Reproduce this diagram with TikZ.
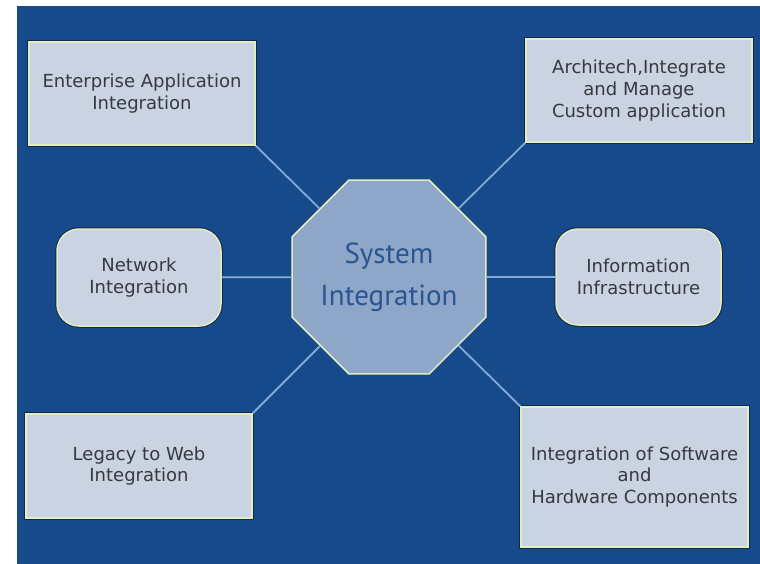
\documentclass[tikz,border=0pt]{standalone}
\usepackage{fontspec}
\usepackage{tikz}
\usetikzlibrary{shapes.geometric,positioning}
\newfontfamily\boxfont{DejaVu Sans}
\newfontfamily\hubfont{PT Sans}
\definecolor{bgblue}{HTML}{174A8A}
\definecolor{boxfill}{HTML}{C9D3E2}
\definecolor{boxrim}{HTML}{E4EDC2}
\definecolor{hubfill}{HTML}{8EA6C8}
\definecolor{hubtext}{HTML}{2B5592}
\definecolor{boxtext}{HTML}{37393F}
\definecolor{linkblue}{HTML}{86AAD8}
\tikzset{box/.style={rectangle,draw=boxrim,fill=boxfill,line width=1.5pt,
  preaction={draw=black!45!bgblue,line width=3.5pt},
  text=boxtext,align=center,inner sep=0pt,
  font=\boxfont\fontsize{18}{21.6}\selectfont}}
\tikzset{roundbox/.style={box,rounded corners=22pt}}
\tikzset{hub/.style={regular polygon,regular polygon sides=8,draw=boxrim,
  fill=hubfill,line width=1.5pt,minimum size=204pt,inner sep=0pt,
  text=hubtext,align=center,font=\hubfont\fontsize{29}{42}\selectfont}}
\tikzset{link/.style={draw=linkblue,line width=1.8pt}}

\begin{document}
\begin{tikzpicture}[x=1pt,y=-1pt]
% \draw[help lines] (0,0) grid (760,563);
\useasboundingbox (0,0) rectangle (760,563);
\fill[bgblue] (17,6) rectangle (764,567);
%
\node (sys) [hub] at (389,277) {System\\Integration};
\node (eai) [box,minimum width=226pt,minimum height=103pt] at (142,93.5) {Enterprise Application\\Integration};
\node (aca) [box,minimum width=226pt,minimum height=103pt] at (639,90.5) {Architech,Integrate\\and Manage\\Custom application};
\node (net) [roundbox,minimum width=164pt,minimum height=97pt] at (139,277.5) {Network\\Integration};
\node (inf) [roundbox,minimum width=165pt,minimum height=96pt] at (638.5,277) {Information\\Infrastructure};
\node (leg) [box,minimum width=226pt,minimum height=104pt] at (139,466) {Legacy to Web\\Integration};
\node (ish) [box,minimum width=227pt,minimum height=140pt] at (634.5,477) {Integration of Software\\and\\Hardware Components};
%
\path[link] (eai.south east) -- (sys);
\path[link] (aca.south west) -- (sys);
\path[link] (net) -- (sys);
\path[link] (inf) -- (sys);
\path[link] (leg.north east) -- (sys);
\path[link] (ish.north west) -- (sys);
\end{tikzpicture}
\end{document}
